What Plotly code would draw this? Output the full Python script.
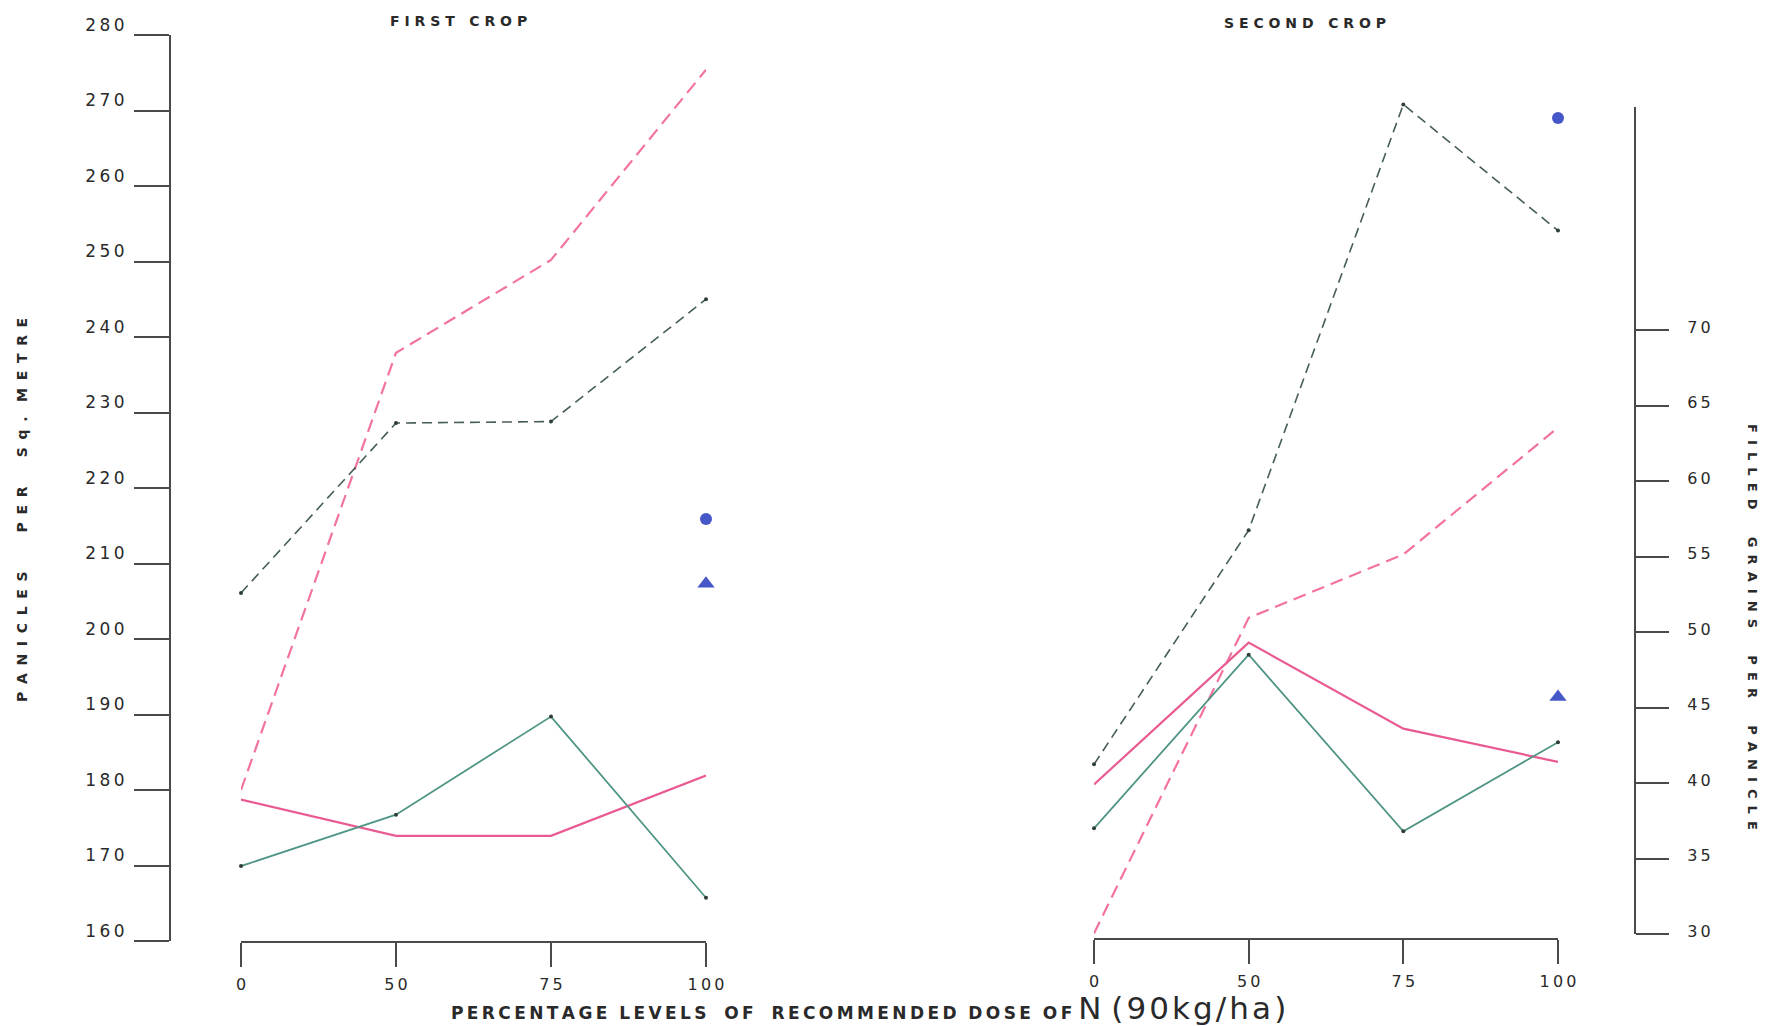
import plotly.graph_objects as go

# ---------------- data ----------------
doses = ["0", "50", "75", "100"]

# Panicles per sq. metre (left axis) - dashed lines
c1_panicles_pink = [180.0, 237.9, 250.2, 275.4]
c1_panicles_green = [206.1, 228.6, 228.8, 245.0]
c2_panicles_pink = [161.0, 202.8, 211.2, 228.0]
c2_panicles_green = [183.4, 214.4, 270.8, 254.1]

# Filled grains per panicle (right axis) - solid lines
c1_grains_pink = [38.9, 36.5, 36.5, 40.5]
c1_grains_green = [34.5, 37.9, 44.4, 32.4]
c2_grains_pink = [39.9, 49.3, 43.6, 41.4]
c2_grains_green = [37.0, 48.5, 36.8, 42.7]

# Single reference points at 100 %
dot_dose = ["100"]
c1_dot_panicles = [215.9]
c2_dot_panicles = [269.0]
c1_tri_grains = [53.2]
c2_tri_grains = [45.7]

left_ticks = [160, 170, 180, 190, 200, 210, 220, 230, 240, 250, 260, 270, 280]
right_ticks = [30, 35, 40, 45, 50, 55, 60, 65, 70]

# ---------------- styles ----------------
W, H = 1768, 1026
PINK_D = "#f2739f"
GREEN_D = "#465e54"
PINK_S = "#e95a93"
GREEN_S = "#4f9585"
BLUE = "#4657c8"
AX = "#4a4a4a"
TXT = "#2a2a2a"
FONT = "DejaVu Sans"
NB = "\u00a0"
TH = "\u2009"
HS = "\u200a"


def px_x(p):
    return p / W


def px_y(p):
    return 1 - p / H


def spaced(words, letter_gap, word_gaps):
    out = ""
    for i, w in enumerate(words):
        out += letter_gap.join(list(w))
        if i < len(words) - 1:
            out += word_gaps[i] if isinstance(word_gaps, list) else word_gaps
    return out


def wide(v):
    return TH.join(list(str(v)))


fig = go.Figure()


def add_panel(xa, pan_pink, pan_green, gr_pink, gr_green, dot_v, tri_v):
    fig.add_trace(go.Scatter(x=doses, y=pan_pink, xaxis=xa, yaxis="y", mode="lines",
                             line=dict(color=PINK_D, width=2.2, dash="13px,7px"),
                             showlegend=False, cliponaxis=False))
    fig.add_trace(go.Scatter(x=doses, y=pan_green, xaxis=xa, yaxis="y", mode="lines+markers",
                             line=dict(color=GREEN_D, width=1.6, dash="10px,6px"),
                             marker=dict(size=4, color="#2f3f38"),
                             showlegend=False, cliponaxis=False))
    fig.add_trace(go.Scatter(x=doses, y=gr_pink, xaxis=xa, yaxis="y2", mode="lines",
                             line=dict(color=PINK_S, width=2.2),
                             showlegend=False, cliponaxis=False))
    fig.add_trace(go.Scatter(x=doses, y=gr_green, xaxis=xa, yaxis="y2", mode="lines+markers",
                             line=dict(color=GREEN_S, width=1.8),
                             marker=dict(size=4, color="#2f3f38"),
                             showlegend=False, cliponaxis=False))
    fig.add_trace(go.Scatter(x=dot_dose, y=dot_v, xaxis=xa, yaxis="y", mode="markers",
                             marker=dict(symbol="circle", size=12, color=BLUE),
                             showlegend=False, cliponaxis=False))
    fig.add_trace(go.Scatter(x=dot_dose, y=tri_v, xaxis=xa, yaxis="y2", mode="markers",
                             marker=dict(symbol="triangle-up", size=15, color=BLUE),
                             showlegend=False, cliponaxis=False))


add_panel("x", c1_panicles_pink, c1_panicles_green, c1_grains_pink, c1_grains_green,
          c1_dot_panicles, c1_tri_grains)
add_panel("x2", c2_panicles_pink, c2_panicles_green, c2_grains_pink, c2_grains_green,
          c2_dot_panicles, c2_tri_grains)

xcommon = dict(type="category", categoryorder="array", categoryarray=doses,
               range=[0, 3], anchor="free", showline=True, linecolor=AX, linewidth=2,
               ticks="outside", ticklen=24, tickwidth=1.5, tickcolor=AX,
               tickvals=doses, ticktext=[wide(d) for d in doses],
               showgrid=False, zeroline=False, ticklabelstandoff=4,
               tickfont=dict(family=FONT, size=16, color=TXT))

fig.update_layout(
    width=W, height=H,
    margin=dict(l=0, r=0, t=0, b=0, autoexpand=False),
    paper_bgcolor="white", plot_bgcolor="rgba(0,0,0,0)",
    showlegend=False,
    xaxis=dict(domain=[px_x(241), px_x(706)], position=px_y(942), **xcommon),
    xaxis2=dict(domain=[px_x(1094), px_x(1558)], position=px_y(939), **xcommon),
    yaxis=dict(domain=[px_y(941), px_y(35)], range=[160, 280], anchor="free",
               position=px_x(170), side="left", showline=True, linecolor=AX, linewidth=2,
               ticks="outside", ticklen=35, tickwidth=1.5, tickcolor=AX,
               tickvals=left_ticks, ticktext=[wide(v) for v in left_ticks],
               showgrid=False, zeroline=False,
               ticklabelshift=-10, ticklabelstandoff=6,
               tickfont=dict(family=FONT, size=17, color=TXT)),
    yaxis2=dict(domain=[px_y(934), px_y(107)], range=[30, 30 + (934 - 107) / 15.1],
                anchor="free", position=px_x(1635), side="right", showline=True,
                linecolor=AX, linewidth=2, ticks="outside", ticklen=33, tickwidth=1.5,
                tickcolor=AX, tickvals=right_ticks, ticktext=[wide(v) for v in right_ticks],
                showgrid=False, zeroline=False,
                ticklabelstandoff=15, ticklabelshift=-3,
                tickfont=dict(family=FONT, size=16, color=TXT)),
)

left_title = spaced(["PANICLES", "PER", "Sq.", "METRE"], NB + TH,
                    [NB * 8, NB * 6, NB * 3])
right_title = spaced(["FILLED", "GRAINS", "PER", "PANICLE"], NB + TH, NB * 6)
x_title_main = spaced(["PERCENTAGE", "LEVELS", "OF", "RECOMMENDED", "DOSE", "OF"],
                      TH, [NB * 2, NB * 3, NB * 3, NB * 2, NB * 2])
x_title = (x_title_main + NB + "<span style='font-size:31px;font-weight:normal'>N"
           + NB + spaced(["(90kg/ha)"], HS, "") + "</span>")

annos = [
    dict(text=spaced(["FIRST", "CROP"], NB, NB * 3), x=px_x(458), y=px_y(21), size=14,
         angle=0, bold=True),
    dict(text=spaced(["SECOND", "CROP"], NB, NB * 3), x=px_x(1305), y=px_y(23), size=14,
         angle=0, bold=True),
    dict(text=left_title, x=px_x(22), y=px_y(510), size=14, angle=-90, bold=True),
    dict(text=right_title, x=px_x(1753), y=px_y(627), size=13, angle=90, bold=True),
    dict(text=x_title, x=px_x(868), y=px_y(1008), size=17, angle=0, bold=True),
]
for a in annos:
    fig.add_annotation(text=a["text"], x=a["x"], y=a["y"], xref="paper", yref="paper",
                       showarrow=False, textangle=a["angle"], xanchor="center", yanchor="middle",
                       font=dict(family=FONT, size=a["size"], color=TXT,
                                 weight="bold" if a["bold"] else "normal"))

fig.write_html(
    "out.html",
    config={"displayModeBar": False},
    post_script="document.body.style.margin='0px';document.body.style.overflow='hidden';",
)
